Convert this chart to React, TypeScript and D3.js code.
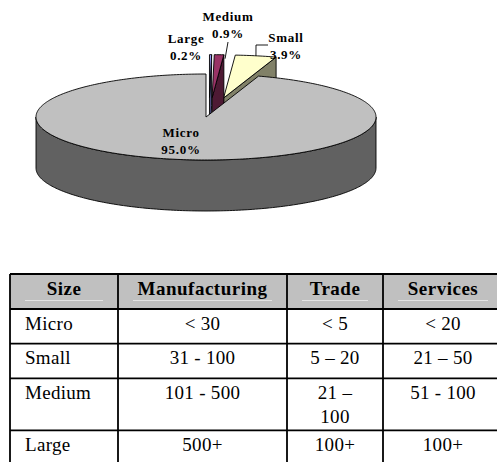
import React from 'react';
import * as d3 from 'd3';

// pie data (clockwise from 12 o'clock)
const SLICE_NAMES = ['Large', 'Medium', 'Small', 'Micro'];
const SLICE_SHARES = [0.2, 0.9, 3.9, 95.0];
const SLICE_COLORS = ['#9999FF', '#993366', '#FFFFCC', '#C0C0C0'];
const EXPLODED = ['Large', 'Medium', 'Small'];

// table data
const TABLE_HEADERS = ['Size', 'Manufacturing', 'Trade', 'Services'];
const SIZE_CLASSES = ['Micro', 'Small', 'Medium', 'Large'];
const MANUFACTURING = ['< 30', '31 - 100', '101 - 500', '500+'];
const TRADE = ['< 5', '5 – 20', '21 – 100', '100+'];
const SERVICES = ['< 20', '21 – 50', '51 - 100', '100+'];

const W = 497;
const H = 462;

// 3d pie layout
const cx = 206;
const cy = 117;
const rx = 170;
const ry = 43;
const depth = 51;
const explode = 0.45;

// label placement (centre x, first baseline)
const LABEL_POS: Record<string, [number, number]> = {
  Micro: [181, 137],
  Medium: [228, 21],
  Large: [186, 43],
  Small: [286, 42],
};

// table layout
const TABLE_X = 10;
const TABLE_Y = 274;
const COL_W = [108, 169, 96, 120];
const PAD = 15;
const FONT = '"Liberation Serif", "Times New Roman", serif';

const measureCtx = typeof document !== 'undefined' ? document.createElement('canvas').getContext('2d') : null;

function wrapText(text: string, maxW: number, font: string): string[] {
  if (!measureCtx) return [text];
  measureCtx.font = font;
  const words = text.split(' ');
  const lines: string[] = [];
  let cur = '';
  words.forEach(w => {
    const next = cur ? cur + ' ' + w : w;
    if (cur && measureCtx.measureText(next).width > maxW) {
      lines.push(cur);
      cur = w;
    } else {
      cur = next;
    }
  });
  if (cur) lines.push(cur);
  return lines;
}

type Pt = [number, number];

function arcPts(a0: number, a1: number, off: Pt, dy = 0): Pt[] {
  const n = Math.max(2, Math.ceil((a1 - a0) / (Math.PI / 180)) + 1);
  return d3.range(n).map(i => {
    const a = a0 + ((a1 - a0) * i) / (n - 1);
    return [cx + off[0] + rx * Math.sin(a), cy + off[1] - ry * Math.cos(a) + dy] as Pt;
  });
}

const line = d3.line<Pt>();

const Pie3D: React.FC = () => {
  const arcs = d3.pie<number>().sort(null).startAngle(0).endAngle(Math.PI * 2)(SLICE_SHARES);

  const slices = arcs.map((a, i) => {
    const name = SLICE_NAMES[i];
    const mid = (a.startAngle + a.endAngle) / 2;
    const e = EXPLODED.includes(name) ? explode : 0;
    // small shift right so the thin slices clear the notch edge
    const off: Pt = [e * rx * Math.sin(mid) + (e ? 3 : 0), -e * ry * Math.cos(mid)];
    const c: Pt = [cx + off[0], cy + off[1]];
    const top = line([c, ...arcPts(a.startAngle, a.endAngle, off)])! + 'Z';
    const side = d3.color(SLICE_COLORS[i])!.darker(1.9).formatHex();
    const faces: string[] = [];
    // outer wall, front half only
    const w0 = Math.max(a.startAngle, Math.PI / 2);
    const w1 = Math.min(a.endAngle, (Math.PI * 3) / 2);
    if (w1 > w0) {
      const t = arcPts(w0, w1, off);
      const b = arcPts(w0, w1, off, depth).reverse();
      faces.push(line([...t, ...b])! + 'Z');
    }
    // radial cut faces
    const radial = (ang: number) => {
      const p = arcPts(ang, ang, off)[0];
      return line([c, p, [p[0], p[1] + depth], [c[0], c[1] + depth]])! + 'Z';
    };
    if (Math.sin(a.endAngle) > 1e-6) faces.push(radial(a.endAngle));
    if (Math.sin(a.startAngle) < -1e-6) faces.push(radial(a.startAngle));
    const arcMid = arcPts(mid, mid, off)[0];
    return { name, value: SLICE_SHARES[i], color: SLICE_COLORS[i], side, top, faces, exploded: e > 0, arcMid };
  });

  // back (exploded) slices first, then the big slice
  const order = [...slices.filter(s => s.exploded).reverse(), ...slices.filter(s => !s.exploded)];

  const labelStyle: React.CSSProperties = {
    fontFamily: FONT,
    fontWeight: 'bold',
    fontSize: 13,
    letterSpacing: 0.7,
  };

  return (
    <g>
      {order.map(s => (
        <g key={s.name}>
          {s.faces.map((d, j) => (
            <path key={j} d={d} fill={s.side} stroke="#000" strokeWidth={0.9} strokeLinejoin="round" />
          ))}
          <path d={s.top} fill={s.color} stroke="#000" strokeWidth={0.9} strokeLinejoin="round" />
        </g>
      ))}
      {/* leader lines */}
      {slices
        .filter(s => s.name === 'Medium')
        .map(s => {
          const [lx, ly] = LABEL_POS[s.name];
          return (
            <path
              key="lm"
              d={line([[s.arcMid[0] + 6, s.arcMid[1] + 4], [lx, ly + 21]])!}
              fill="none"
              stroke="#000"
              strokeWidth={0.9}
            />
          );
        })}
      {slices
        .filter(s => s.name === 'Small')
        .map(s => {
          const [lx, ly] = LABEL_POS[s.name];
          return (
            <path
              key="ls"
              d={line([s.arcMid, [lx - 30, ly + 3], [lx - 18, ly + 3]])!}
              fill="none"
              stroke="#000"
              strokeWidth={0.9}
            />
          );
        })}
      {slices.map(s => {
        const [lx, ly] = LABEL_POS[s.name];
        return (
          <text key={'t' + s.name} x={lx} y={ly} textAnchor="middle" style={labelStyle} fill="#000">
            <tspan x={lx}>{s.name}</tspan>
            <tspan x={lx} dy={17}>{s.value.toFixed(1)}%</tspan>
          </text>
        );
      })}
    </g>
  );
};

const SizeTable: React.FC = () => {
  const colX = COL_W.reduce<number[]>((acc, w, i) => {
    acc.push(i === 0 ? TABLE_X : acc[i - 1] + COL_W[i - 1]);
    return acc;
  }, []);
  const tableRight = colX[colX.length - 1] + COL_W[COL_W.length - 1];
  const bodyFont = `19px ${FONT}`;

  const rows = SIZE_CLASSES.map((s, i) => [s, MANUFACTURING[i], TRADE[i], SERVICES[i]]);
  const wrapped = rows.map(r => r.map((v, j) => wrapText(v, COL_W[j] - 2 * PAD - 2, bodyFont)));

  const headerH = 35;
  const rowH = wrapped.map(r => {
    const n = d3.max(r, c => c.length) ?? 1;
    return n > 1 ? 52 : 34.7;
  });
  const rowY: number[] = [];
  let y = TABLE_Y + headerH;
  rowH.forEach(h => {
    rowY.push(y);
    y += h;
  });
  const bottom = y;

  const textStyle: React.CSSProperties = { fontFamily: FONT, fontSize: 19, letterSpacing: 0.3 };

  return (
    <g>
      <rect x={TABLE_X} y={TABLE_Y} width={tableRight - TABLE_X} height={headerH} fill="#C0C0C0" />
      {TABLE_HEADERS.map((h, j) => (
        <g key={h}>
          <line
            x1={colX[j] + PAD}
            x2={colX[j] + COL_W[j] - PAD}
            y1={TABLE_Y + 26.5}
            y2={TABLE_Y + 26.5}
            stroke="#E4E4E4"
            strokeWidth={1}
          />
          <text
            x={colX[j] + COL_W[j] / 2}
            y={TABLE_Y + 21}
            textAnchor="middle"
            style={{ ...textStyle, fontWeight: 'bold', letterSpacing: 0.5 }}
          >
            {h}
          </text>
        </g>
      ))}
      {wrapped.map((r, i) =>
        r.map((lines, j) => (
          <text
            key={i + '-' + j}
            x={j === 0 ? colX[j] + PAD : colX[j] + COL_W[j] / 2}
            y={rowY[i] + 20.5}
            textAnchor={j === 0 ? 'start' : 'middle'}
            style={textStyle}
          >
            {lines.map((l, k) => (
              <tspan key={k} x={j === 0 ? colX[j] + PAD : colX[j] + COL_W[j] / 2} dy={k === 0 ? 0 : 24}>
                {l}
              </tspan>
            ))}
          </text>
        ))
      )}
      {/* grid */}
      {[TABLE_Y, ...rowY, bottom].map((yy, i) => (
        <line key={'h' + i} x1={TABLE_X} x2={tableRight} y1={yy} y2={yy} stroke="#000" strokeWidth={1.8} />
      ))}
      {[...colX, tableRight].map((xx, i) => (
        <line key={'v' + i} x1={xx} x2={xx} y1={TABLE_Y} y2={bottom} stroke="#000" strokeWidth={1.8} />
      ))}
    </g>
  );
};

export default function App() {
  return (
    <svg
      width={W}
      height={H}
      style={{ position: 'absolute', left: 0, top: 0, background: '#fff' }}
    >
      <Pie3D />
      <SizeTable />
    </svg>
  );
}
